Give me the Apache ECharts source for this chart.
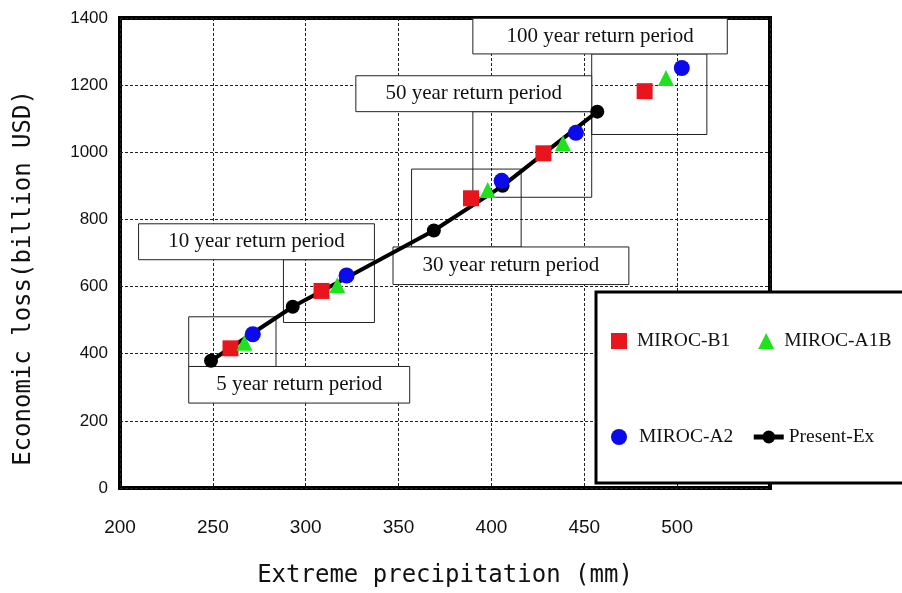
<!DOCTYPE html>
<html>
<head>
<meta charset="utf-8">
<script src="https://cdn.jsdelivr.net/npm/echarts@6/dist/echarts.min.js"></script>
<style>
  html, body { margin: 0; padding: 0; background: #fff; }
  #main { width: 902px; height: 593px; }
</style>
</head>
<body>
<div id="main"></div>
<script>
// values: [precipitation (mm), loss (billion USD)]
const presentEx = [[249, 379], [293, 540], [369, 767], [406, 900], [457, 1121]];
const mirocB1 = [[259.5, 416], [308.5, 587], [389, 863], [428, 997], [482.5, 1182]];
const mirocA1B = [[267, 433], [317, 604], [398, 888], [438.5, 1027], [494, 1221]];
const mirocA2 = [[271.5, 458], [322, 633], [405.5, 915], [445.5, 1058], [502.5, 1251]];

const xTicks = [200, 250, 300, 350, 400, 450, 500];

// return period boxes, in data units
const periodNames = ['5 year return period', '10 year return period', '30 year return period',
  '50 year return period', '100 year return period'];
const periodRegions = [
  [[237, 362], [284, 510]],
  [[288, 493], [337, 680]],
  [[357, 718], [416, 950]],
  [[390, 866], [454, 1121]],
  [[454, 1053], [516, 1293]]
];
const periodLabelBoxes = [
  [[237, 253], [356, 362]],
  [[210, 680], [337, 787]],
  [[347, 606], [474, 718]],
  [[327, 1121], [454, 1228]],
  [[390, 1293], [527, 1399]]
];

const chart = echarts.init(document.getElementById('main'));

const gridLine = { color: '#222', type: [3, 2], width: 1 };

const boxAreas = [];
periodRegions.forEach((r) => {
  boxAreas.push([
    { coord: r[0], itemStyle: { color: 'rgba(0,0,0,0)', borderColor: '#222', borderWidth: 1 }, label: { show: false } },
    { coord: r[1] }
  ]);
});
periodLabelBoxes.forEach((r, i) => {
  boxAreas.push([
    {
      name: periodNames[i], coord: r[0],
      itemStyle: { color: '#fff', borderColor: '#222', borderWidth: 1 },
      label: { show: true, position: 'inside', color: '#111', fontFamily: 'Liberation Serif, serif', fontSize: 21 }
    },
    { coord: r[1] }
  ]);
});

const option = {
  animation: false,
  backgroundColor: '#fff',
  grid: {
    left: 120, right: 132, top: 18, bottom: 103,
    show: true, borderColor: '#000', borderWidth: 4, backgroundColor: 'transparent'
  },
  xAxis: {
    type: 'value', min: 200, max: 550, interval: 50,
    name: 'Extreme precipitation (mm)', nameLocation: 'middle', nameGap: 76,
    nameTextStyle: { fontFamily: 'DejaVu Sans Mono', fontSize: 24, color: '#111' },
    axisLine: { show: false }, axisTick: { show: false },
    axisLabel: {
      margin: 30, color: '#111', fontSize: 19,
      fontFamily: 'Liberation Sans, Arial, sans-serif',
      formatter: (v) => (xTicks.indexOf(v) >= 0 ? String(v) : '')
    },
    splitLine: { show: true, lineStyle: gridLine }
  },
  yAxis: {
    type: 'value', min: 0, max: 1400, interval: 200,
    name: 'Economic loss(billion USD)', nameLocation: 'middle', nameGap: 84, nameRotate: 90,
    nameTextStyle: { fontFamily: 'DejaVu Sans Mono', fontSize: 24, color: '#111', padding: [0, 50, 0, 0] },
    axisLine: { show: false }, axisTick: { show: false },
    axisLabel: {
      margin: 12, color: '#111', fontSize: 17, fontFamily: 'Liberation Sans, Arial, sans-serif',
      formatter: (v) => String(v)
    },
    splitLine: { show: true, lineStyle: gridLine }
  },
  legend: [
    {
      data: [{ name: 'MIROC-B1', icon: 'rect' }, { name: 'MIROC-A1B', icon: 'triangle' }],
      left: 596, top: 292, width: 360, orient: 'horizontal',
      padding: [39, 60, 132, 15],
      itemWidth: 16, itemHeight: 16, itemGap: 28,
      backgroundColor: '#fff', borderColor: '#000', borderWidth: 3,
      textStyle: { fontFamily: 'Liberation Serif, serif', fontSize: 19.5, color: '#111', padding: [0, 0, 0, 5] },
      z: 10
    },
    {
      data: [
        { name: 'MIROC-A2', icon: 'circle' },
        { name: 'Present-Ex', lineStyle: { width: 5 } }
      ],
      left: 611, top: 427, width: 320, orient: 'horizontal',
      padding: 0,
      itemWidth: 30, itemHeight: 16, itemGap: 18,
      textStyle: { fontFamily: 'Liberation Serif, serif', fontSize: 19.5, color: '#111' },
      z: 11
    }
  ],
  series: [
    {
      name: 'boxes', type: 'scatter', data: [], silent: true, z: 1,
      markArea: { silent: true, data: boxAreas }
    },
    {
      name: 'Present-Ex', type: 'line', data: presentEx, z: 3,
      symbol: 'circle', symbolSize: 14, showAllSymbol: true,
      lineStyle: { color: '#000', width: 4 },
      itemStyle: { color: '#000' }
    },
    {
      name: 'MIROC-B1', type: 'scatter', data: mirocB1, z: 4,
      symbol: 'rect', symbolSize: 16, itemStyle: { color: '#e8161c', opacity: 1 }
    },
    {
      name: 'MIROC-A1B', type: 'scatter', data: mirocA1B, z: 5,
      symbol: 'triangle', symbolSize: 16, itemStyle: { color: '#1ee21e', opacity: 1 }
    },
    {
      name: 'MIROC-A2', type: 'scatter', data: mirocA2, z: 6,
      symbol: 'circle', symbolSize: 16, itemStyle: { color: '#0a0aea', opacity: 1 }
    }
  ]
};

chart.setOption(option);
</script>
</body>
</html>
